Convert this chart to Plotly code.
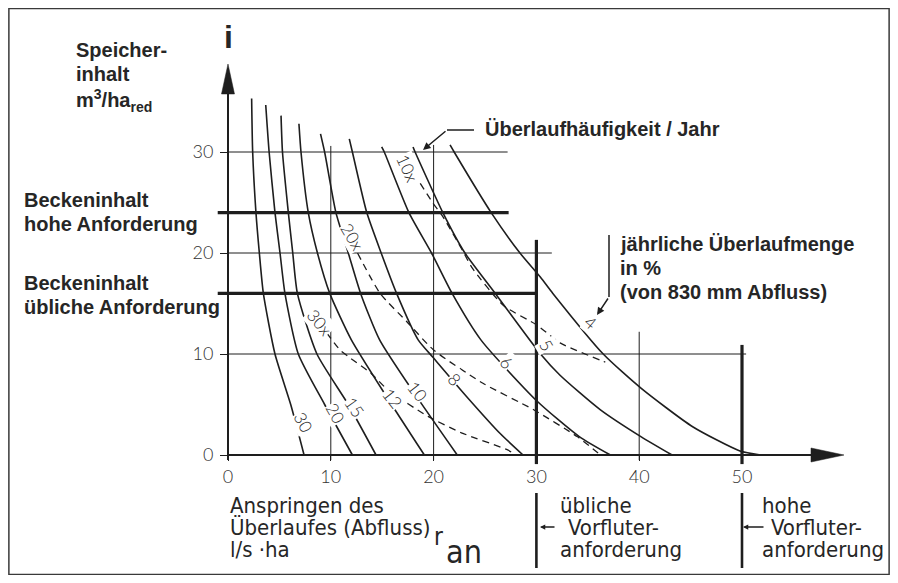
import plotly.graph_objects as go

# window 898x583, page body margin 8 px -> figure drawn at (8, 8)
OFF = 8
FW, FH = 898 - 2 * OFF, 583 - 2 * OFF

# ---------------- data ----------------
x_ticks = [0, 10, 20, 30, 40, 50]
y_ticks = [0, 10, 20, 30]

# solid curves: jährliche Überlaufmenge in %
pct_labels = ["30", "20", "15", "12", "10", "8", "6", "5", "4"]
c30_x = [2.3, 2.4, 2.72, 3.05, 3.44, 4.57, 6.1, 7.4]
c30_y = [35.3, 30, 24, 20, 16, 10, 5, 0]
c20_x = [3.67, 4.0, 4.57, 5.06, 5.54, 6.84, 9.4, 12.1]
c20_y = [34.65, 30, 24, 20, 16, 10, 5, 0]
c15_x = [5.16, 5.3, 5.87, 6.3, 6.75, 8.65, 11.7, 14.4]
c15_y = [33.6, 30, 24, 20, 16, 10, 5, 0]
c12_x = [6.9, 7.1, 7.81, 8.7, 9.9, 12.0, 15.6, 19.1]
c12_y = [32.8, 30, 24, 20, 16, 11.4, 5.5, 0]
c10_x = [9.0, 9.4, 10.5, 11.7, 12.9, 14.75, 18.2, 22.3]
c10_y = [31.8, 30, 24, 20, 16, 11.4, 6, 0]
c8_x = [11.8, 12.1, 13.5, 14.9, 16.4, 18.5, 20.0, 23.2, 26.5, 28.7]
c8_y = [31.3, 30, 24, 20, 16, 11.4, 9.6, 5.8, 2.1, 0]
c6_x = [14.95, 15.2, 17.6, 19.8, 21.8, 24.6, 30.0, 34.2, 37.2]
c6_y = [30.5, 30, 24, 20, 16, 11.4, 5.4, 1.8, 0]
c5_x = [18.0, 18.2, 20.9, 23.05, 26.0, 30.4, 32.3, 36.2, 40.2, 43.2]
c5_y = [30.5, 30, 24, 20, 16, 10, 7.9, 4.5, 1.8, 0]
c4_x = [21.6, 22.0, 25.6, 28.4, 30.4, 31.6, 36.5, 40.2, 45.2, 49.8, 51.8]
c4_y = [30.7, 30, 24, 20, 17.6, 16, 10, 6.6, 2.8, 0.4, 0]

# dashed curves: Überlaufhäufigkeit / Jahr
freq_labels = ["10x", "20x", "30x"]
f10_x = [18.7, 19.9, 20.9, 22.9, 23.7, 26.8, 30.0, 32.3, 36.2, 36.7]
f10_y = [26.9, 25.0, 23.6, 20.1, 18.6, 14.8, 12.9, 11.1, 9.4, 9.2]
f20_x = [12.6, 14.8, 17.4, 20.0, 24.8, 29.7, 34.0, 36.0]
f20_y = [20.0, 16.0, 13.2, 10.4, 7.1, 4.5, 1.8, 0.2]
f30_x = [9.6, 10.9, 11.9, 13.9, 15.6, 19.5, 22.7, 27.2, 28.0]
f30_y = [12.1, 10.4, 9.6, 8.1, 6.4, 3.8, 2.2, 0.5, 0]

# Beckeninhalt levels (hohe / übliche Anforderung)
basin_levels = [24, 16]
basin_ends = [27.3, 30]
# Vorfluteranforderung (übliche / hohe)
req_levels = [30, 50]
req_tops = [21.3, 10.9]
# partial grid lines
grid_h = [10, 20, 30]
grid_h_end = [50.4, 31.5, 27.2]
grid_v = [10, 20, 40]
grid_v_top = [30.6, 30.7, 12.2]

# ---------------- geometry (screen pixels) ----------------
X0_PX, X_PER = 228.0, 10.28
Y0_PX, Y_PER = 455.0, 10.1
xr = [(OFF - X0_PX) / X_PER, (OFF + FW - X0_PX) / X_PER]
yr = [(Y0_PX - (OFF + FH)) / Y_PER, (Y0_PX - OFF) / Y_PER]


def px2x(px):
    return (px - X0_PX) / X_PER


def py2y(py):
    return (Y0_PX - py) / Y_PER


def fx(px):
    return (px - OFF) / FW


def fy(py):
    return 1 - (py - OFF) / FH


INK = "#1e1e1e"
TXT = "#262626"
BOLD = "Liberation Sans, Arial, sans-serif"
COND = "Liberation Sans Narrow, DejaVu Sans Condensed, Liberation Sans, sans-serif"
LIGHT = "Lato, Liberation Sans, sans-serif"

fig = go.Figure()

# grid lines
for lvl, end in zip(grid_h, grid_h_end):
    fig.add_trace(go.Scatter(x=[0, end], y=[lvl, lvl], mode="lines",
                             line=dict(color=INK, width=1), hoverinfo="skip"))
for lvl, top in zip(grid_v, grid_v_top):
    fig.add_trace(go.Scatter(x=[lvl, lvl], y=[-0.5, top], mode="lines",
                             line=dict(color=INK, width=1), hoverinfo="skip"))

# solid curves
curves = [(c30_x, c30_y), (c20_x, c20_y), (c15_x, c15_y), (c12_x, c12_y),
          (c10_x, c10_y), (c8_x, c8_y), (c6_x, c6_y), (c5_x, c5_y), (c4_x, c4_y)]
for (cx, cy), name in zip(curves, pct_labels):
    fig.add_trace(go.Scatter(x=cx, y=cy, mode="lines", name=name,
                             line=dict(color=INK, width=1.6, shape="spline", smoothing=0.6),
                             hoverinfo="skip"))

# dashed curves
fcurves = [(f10_x, f10_y), (f20_x, f20_y), (f30_x, f30_y)]
for (cx, cy), name in zip(fcurves, freq_labels):
    fig.add_trace(go.Scatter(x=cx, y=cy, mode="lines", name=name,
                             line=dict(color=INK, width=1.3, dash="7px,5px",
                                       shape="spline", smoothing=0.6),
                             hoverinfo="skip"))

# thick basin lines
for lvl, end in zip(basin_levels, basin_ends):
    fig.add_trace(go.Scatter(x=[-1.0, end], y=[lvl, lvl], mode="lines",
                             line=dict(color=INK, width=3.2), hoverinfo="skip"))
# thick requirement lines
for lvl, top in zip(req_levels, req_tops):
    fig.add_trace(go.Scatter(x=[lvl, lvl], y=[-0.9, top], mode="lines",
                             line=dict(color=INK, width=3.2), hoverinfo="skip"))

# axes lines
fig.add_trace(go.Scatter(x=[0, 0], y=[-0.5, py2y(92)], mode="lines",
                         line=dict(color=INK, width=2), hoverinfo="skip"))
fig.add_trace(go.Scatter(x=[0, px2x(814)], y=[0, 0], mode="lines",
                         line=dict(color=INK, width=2), hoverinfo="skip"))


def P(px, py):
    return f"{fx(px):.5f},{fy(py):.5f}"


shapes = [
    # arrowheads of axes
    dict(type="path", xref="paper", yref="paper",
         path=f"M {P(228, 64)} L {P(221.5, 94)} L {P(234.5, 94)} Z",
         fillcolor=INK, line=dict(color=INK, width=0.5)),
    dict(type="path", xref="paper", yref="paper",
         path=f"M {P(844, 455)} L {P(811, 448)} L {P(811, 462)} Z",
         fillcolor=INK, line=dict(color=INK, width=0.5)),
    # frame
    dict(type="rect", xref="paper", yref="paper",
         x0=0.001, x1=0.999, y0=0.001, y1=0.999,
         line=dict(color="#3a3a3a", width=1.5)),
    # leader lines
    dict(type="line", xref="paper", yref="paper",
         x0=fx(447), x1=fx(474), y0=fy(130), y1=fy(130),
         line=dict(color=INK, width=1.5)),
    dict(type="line", xref="paper", yref="paper",
         x0=fx(609), x1=fx(609), y0=fy(235), y1=fy(297),
         line=dict(color=INK, width=1.5)),
]
# bars below the axis for the requirement labels
for lvl in req_levels:
    xp = X0_PX + lvl * X_PER
    shapes.append(dict(type="line", xref="paper", yref="paper",
                       x0=fx(xp), x1=fx(xp), y0=fy(493), y1=fy(568),
                       line=dict(color=INK, width=2.6)))

ann = []


def txt(s, px, py, size, family, weight="normal", xanchor="left", angle=0, bg=None, color=TXT):
    d = dict(text=s, x=fx(px), y=fy(py), xref="paper", yref="paper",
             xanchor=xanchor, yanchor="middle", showarrow=False, textangle=angle,
             font=dict(family=family, size=size, color=color, weight=weight))
    if bg:
        d["bgcolor"] = bg
        d["borderpad"] = 0
    ann.append(d)


# axis symbol
txt("i", 229, 37, 32, BOLD, weight="bold", xanchor="center")
# left labels
txt("Speicher-", 74, 50, 20, BOLD, weight="bold")
txt("inhalt", 74, 74, 20, BOLD, weight="bold")
txt("m<sup>3</sup>/ha<sub>red</sub>", 74, 101, 20, BOLD, weight="bold")
txt("Beckeninhalt", 22, 200, 20, BOLD, weight="bold")
txt("hohe Anforderung", 22, 224, 20, BOLD, weight="bold")
txt("Beckeninhalt", 22, 283, 20, BOLD, weight="bold")
txt("übliche Anforderung", 22, 307, 20, BOLD, weight="bold")
# right labels
txt("Überlaufhäufigkeit / Jahr", 483, 129, 20, BOLD, weight="bold")
txt("jährliche Überlaufmenge", 618, 244, 20, BOLD, weight="bold")
txt("in %", 618, 268, 20, BOLD, weight="bold")
txt("(von 830 mm Abfluss)", 618, 292, 20, BOLD, weight="bold")
# bottom labels
txt("Anspringen des", 228, 505, 22, COND)
txt("Überlaufes (Abfluss)", 228, 527, 22, COND)
txt("l/s ·ha", 228, 549, 22, COND)
txt("r", 438, 537, 24, COND, xanchor="center")
txt("an", 464, 552, 32, COND, xanchor="center")
txt("übliche", 558, 505, 22, COND)
txt("Vorfluter-", 566, 527, 22, COND)
txt("anforderung", 558, 549, 22, COND)
txt("hohe", 760, 505, 22, COND)
txt("Vorfluter-", 769, 527, 22, COND)
txt("anforderung", 760, 549, 22, COND)

# curve labels
pct_pos = [(304, 422, 62), (336, 413, 60), (355, 407, 55), (393, 398, 52), (418, 391, 52),
           (455, 379, 48), (507, 362, 45), (547, 345, 60), (591, 322, 40)]
for name, (px, py, ang) in zip(pct_labels, pct_pos):
    txt(name, px, py, 17, LIGHT, weight=300, xanchor="center", angle=ang, bg="white")
freq_pos = [(408, 168, 65), (352, 237, 60), (320, 322, 50)]
for name, (px, py, ang) in zip(freq_labels, freq_pos):
    txt(name, px, py, 17, LIGHT, weight=300, xanchor="center", angle=ang, bg="white")

# arrows
for tip, off, size in [((423, 150), (24, -20), 1.0), ((597, 315), (12, -18), 1.0),
                       ((540, 527), (16, 0), 0.7), ((743, 527), (22, 0), 0.7)]:
    ann.append(dict(x=fx(tip[0]), y=fy(tip[1]), xref="paper", yref="paper",
                    ax=off[0], ay=off[1], text="", showarrow=True, arrowhead=2,
                    arrowsize=size, arrowwidth=1.5, arrowcolor=INK))

fig.update_layout(
    width=FW, height=FH, autosize=False,
    margin=dict(l=0, r=0, t=0, b=0, pad=0),
    paper_bgcolor="white", plot_bgcolor="white",
    showlegend=False,
    xaxis=dict(range=xr, tickvals=x_ticks, ticks="outside", ticklen=5, tickwidth=1.2,
               tickcolor=INK, showgrid=False, zeroline=False, showline=False,
               anchor="free", position=fy(Y0_PX), side="bottom",
               ticklabelstandoff=0,
               tickfont=dict(family=LIGHT, size=18, color="#333", weight=300)),
    yaxis=dict(range=yr, tickvals=y_ticks, ticks="outside", ticklen=8, tickwidth=1.2,
               tickcolor=INK, showgrid=False, zeroline=False, showline=False,
               anchor="free", position=fx(X0_PX), side="left",
               ticklabelstandoff=3,
               tickfont=dict(family=LIGHT, size=18, color="#333", weight=300)),
    shapes=shapes,
    annotations=ann,
)

fig.write_html("out.html")
